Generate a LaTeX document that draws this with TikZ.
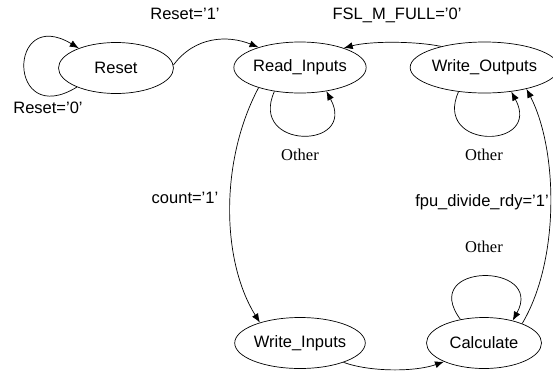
\documentclass[tikz,border=0pt]{standalone}
\usepackage{fontspec}
\setmainfont{Liberation Sans}
\newfontfamily\othfont{Liberation Serif}
\usetikzlibrary{shapes.geometric,arrows.meta}

\begin{document}
\begin{tikzpicture}[x=1pt,y=-1pt,->,>={Latex[length=9pt,width=7pt]},
    line width=0.7pt,
    state/.style = {shape=ellipse, draw, inner sep=0pt,
    minimum width=115pt, minimum height=51pt, font=\fontsize{16.5}{18}\selectfont},
    lbl/.style={font=\fontsize{16.5}{18}\selectfont},
    oth/.style={font=\othfont\fontsize{16.5}{18}\selectfont}]
    \useasboundingbox (0,0) rectangle (553,370);
    \node[state] (reset) at (116, 68) {Reset};
    \node[state] (rdin) at (300, 67.5) {Read\_Inputs};
    \node[state] (wrout) at (484.5, 67.5) {Write\_Outputs};
    \node[state] (wrin) at (300, 343) {Write\_Inputs};
    \node[state] (calc) at (484, 343) {Calculate};
    % transition labels
    \node[lbl] (l0) at (48, 108) {Reset='0'};
    \node[lbl] (l1) at (185, 14) {Reset='1'};
    \node[lbl] (lfull) at (397, 15) {FSL\_M\_FULL='0'};
    \node[lbl] (lcount) at (185, 198) {count='1'};
    \node[lbl] (lrdy) at (482, 202) {fpu\_divide\_rdy='1'};
    \node[oth] (o1) at (300, 155) {Other};
    \node[oth] (o2) at (484, 155) {Other};
    \node[oth] (o3) at (484, 247) {Other};
    % transitions
    \draw (reset.206) .. controls (7,130) and (7,5) .. (reset.152);
    \draw (reset.3) .. controls (195,36) and (228,35) .. (rdin.154);
    \draw (wrout.154) .. controls (415,41) and (370,41) .. (rdin.24);
    \draw (rdin.223) .. controls (248,150) and (358,150) .. (rdin.318);
    \draw (wrout.223) .. controls (432.5,150) and (542.5,150) .. (wrout.318);
    \draw (rdin.206) .. controls (220,160) and (221,260) .. (wrin.153);
    \draw (wrin.336) .. controls (370,372) and (415,372) .. (calc.205);
    \draw (calc.135) .. controls (418,262) and (545,262) .. (calc.38);
    \draw (calc.27) .. controls (560,260) and (558,150) .. (wrout.333);
\end{tikzpicture}
\end{document}
